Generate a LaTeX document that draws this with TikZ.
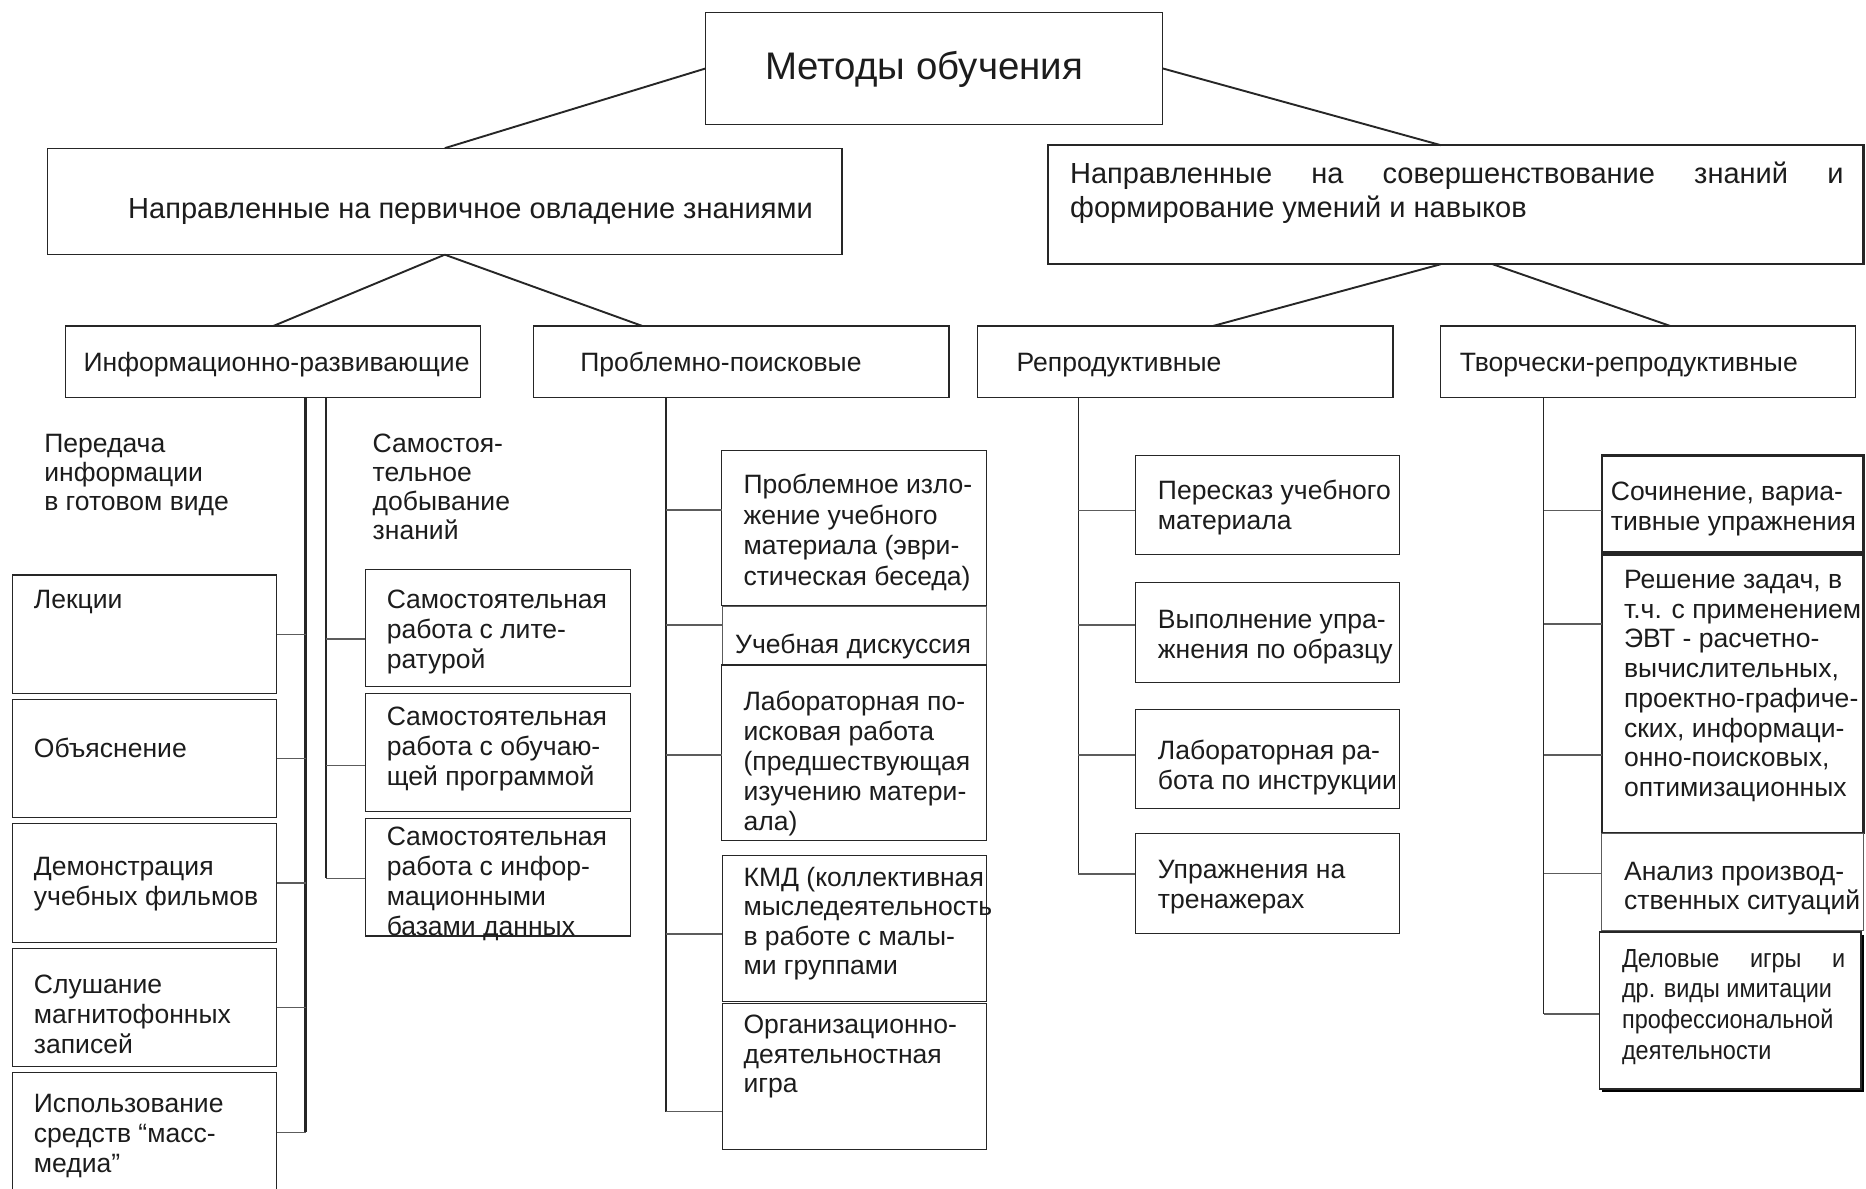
\documentclass[tikz,border=0pt]{standalone}
\usepackage{fontspec}
\setmainfont{Liberation Sans}
\newfontfamily\narrowsans[FakeStretch=0.895]{Liberation Sans}
\usetikzlibrary{positioning,shadows}
\definecolor{schemeInk}{HTML}{1C1C1C}
\definecolor{schemeLine}{HTML}{262626}
\definecolor{schemeGrey}{HTML}{5C5C5C}
\newcommand{\lines}[1]{\begin{tabular}[t]{@{}l@{}}#1\end{tabular}}

\begin{document}
\begin{tikzpicture}[x=1pt,y=-1pt,line join=miter]
\useasboundingbox (0,0) rectangle (1568,999);
\clip (0,0) rectangle (1568,999);
\tikzset{box/.style={draw=schemeLine,line width=1.1pt,inner sep=0pt,outer sep=0pt,anchor=north west},boldbox/.style={box,line width=2.2pt},softbox/.style={box,draw=schemeGrey,line width=0.9pt},shadebox/.style={box,line width=1.5pt,fill=white,drop shadow={shadow xshift=2pt,shadow yshift=-2.5pt,fill=black,opacity=1}},branch/.style={draw=schemeLine,line width=1.6pt},link/.style={draw=schemeGrey,line width=1.1pt},stem/.style={draw=schemeLine,line width=1.3pt},txt/.style={anchor=base west,inner sep=0pt,text=schemeInk,font=\fontsize{22.3}{25.2}\selectfont}}
\node[box,minimum width=384,minimum height=94] (meth) at (593,10.5) {};
\node[box,minimum width=667.5,minimum height=89.5] (prim) at (40,124.5) {};
\node[box,line width=2pt,minimum width=685.5,minimum height=100] (perf) at (880.5,122) {};
\node[box,minimum width=349,minimum height=60] (info) at (55,274) {};
\node[box,minimum width=349,minimum height=60] (prob) at (448.5,274) {};
\node[box,minimum width=349,minimum height=60] (repr) at (821.5,274) {};
\node[box,minimum width=348.5,minimum height=60] (crea) at (1210.5,274) {};
\draw[branch] (meth.west) -- (prim.north); \draw[branch] (meth.east) -- ([xshift=-12.5pt]perf.north);
\draw[branch] (prim.south) -- (info.north); \draw[branch] (prim.south) -- ([xshift=91.5pt]prob.north west);
\draw[branch] ([xshift=-12.5pt]perf.south) -- ([xshift=23pt]repr.north); \draw[branch] ([xshift=31pt]perf.south) -- ([xshift=19pt]crea.north);
\node[txt,font=\fontsize{32.3}{36}\selectfont,anchor=base] (methT) at (776.5,67) {Методы обучения};
\node[txt,font=\fontsize{24.4}{28}\selectfont] (primT) at (107.5,183.4) {Направленные на первичное овладение знаниями};
\node[txt,font=\fontsize{24.4}{28}\selectfont] (perfT) at (899,154.6) {\lines{\hbox to 650pt{Направленные\hfill на\hfill совершенствование\hfill знаний\hfill и}\\формирование умений и навыков}};
\node[txt] (infoT) at (70,312) {Информационно-развивающие};
\node[txt] (probT) at (487.5,312) {Проблемно-поисковые};
\node[txt] (reprT) at (854,312) {Репродуктивные};
\node[txt] (creaT) at (1226.5,312) {Творчески-репродуктивные};
\coordinate (infoA) at (257,334); \coordinate (infoB) at (274,334); \coordinate (probA) at (559.7,334); \coordinate (reprA) at (906.2,334); \coordinate (creaA) at (1297.1,334);
\draw[stem,line width=2.6pt] (infoA) -- (257,951.5); \draw[stem] (infoB) -- (274,738.1);
\draw[stem] (probA) -- (559.7,934.2); \draw[stem] (reprA) -- (906.2,734.5); \draw[stem] (creaA) -- (1297.1,852.1);
\node[txt,font=\fontsize{22.3}{24.5}\selectfont] (passT) at (37,380) {\lines{Передача\\информации\\в готовом виде}};
\node[txt,font=\fontsize{22.3}{24.5}\selectfont] (selfT) at (313,380) {\lines{Самостоя-\\тельное\\добывание\\знаний}};
\node[box,minimum width=221.8,minimum height=99.4] (lect) at (10.6,483.2) {};
\node[box,minimum width=221.8,minimum height=99.1] (expl) at (10.6,587.7) {};
\node[box,minimum width=221.8,minimum height=100] (demo) at (10.6,691.9) {};
\node[box,minimum width=221.8,minimum height=99.5] (tape) at (10.6,796.9) {};
\node[box,minimum width=221.8,minimum height=100.2] (media) at (10.6,901.4) {};
\foreach \n in {lect,expl,demo,tape,media} {\draw[link] (\n.east) -- (\n.east -| infoA);}
\node[box,minimum width=222.6,minimum height=98.6] (self1) at (307,478.4) {};
\node[box,minimum width=222.6,minimum height=99.5] (self2) at (307,582.6) {};
\node[box,minimum width=222.6,minimum height=98.9] (self3) at (307,687.7) {};
\foreach \n/\y in {self1/537,self2/643.4,self3/738.1} {\path (274,\y) coordinate (k); \draw[link] (k) -- (k -| \n.west);}
\node[txt] (lectT) at (28.3,511.7) {Лекции};
\node[txt] (explT) at (28.3,636.4) {Объяснение};
\node[txt] (demoT) at (28.3,735.8) {\lines{Демонстрация\\учебных фильмов}};
\node[txt] (tapeT) at (28.3,835.2) {\lines{Слушание\\магнитофонных\\записей}};
\node[txt] (mediaT) at (28.3,934.7) {\lines{Использование\\средств “масс-\\медиа”}};
\node[txt] (self1T) at (324.8,511.7) {\lines{Самостоятельная\\работа с лите-\\ратурой}};
\node[txt] (self2T) at (324.8,609.7) {\lines{Самостоятельная\\работа с обучаю-\\щей программой}};
\node[txt] (self3T) at (324.8,710.6) {\lines{Самостоятельная\\работа с инфор-\\мационными\\базами данных}};
\node[box,minimum width=222.7,minimum height=130.3] (pb1) at (606.5,378.7) {};
\node[softbox,minimum width=222,minimum height=49] (pb2) at (607.2,509.8) {};
\node[box,minimum width=222.7,minimum height=147.7] (pb3) at (606.5,558.8) {};
\node[box,minimum width=222.2,minimum height=122.6] (pb4) at (607,719.1) {};
\node[box,minimum width=222.2,minimum height=122.7] (pb5) at (607,843.1) {};
\foreach \n/\y in {pb1/428.6,pb2/525.2,pb3/634.5,pb4/784.9,pb5/934.2} {\path (559.7,\y) coordinate (k); \draw[link] (k) -- (k -| \n.west);}
\node[txt,font=\fontsize{22.3}{25.6}\selectfont] (pb1T) at (624.6,415) {\lines{Проблемное изло-\\жение учебного\\материала (эври-\\стическая беседа)}};
\node[txt] (pb2T) at (617.6,549.5) {Учебная дискуссия};
\node[txt] (pb3T) at (624.6,597) {\lines{Лабораторная по-\\исковая работа\\(предшествующая\\изучению матери-\\ала)}};
\node[txt,font=\fontsize{22.3}{24.8}\selectfont] (pb4T) at (624.6,744.7) {\lines{КМД (коллективная\\мыследеятельность\\в работе с малы-\\ми группами}};
\node[txt,font=\fontsize{22.3}{24.5}\selectfont] (pb5T) at (624.6,868.8) {\lines{Организационно-\\деятельностная\\игра}};
\node[box,minimum width=222,minimum height=83.2] (rp1) at (954,382.6) {};
\node[box,minimum width=222,minimum height=84.1] (rp2) at (954,489.6) {};
\node[box,minimum width=222,minimum height=83.3] (rp3) at (954,596) {};
\node[box,minimum width=222,minimum height=84] (rp4) at (954,700.3) {};
\foreach \n/\y in {rp1/429.1,rp2/525.2,rp3/634.5,rp4/734.5} {\path (906.2,\y) coordinate (k); \draw[link] (k) -- (k -| \n.west);}
\node[txt] (rp1T) at (972.8,419.5) {\lines{Пересказ учебного\\материала}};
\node[txt] (rp2T) at (972.8,528.5) {\lines{Выполнение упра-\\жнения по образцу}};
\node[txt] (rp3T) at (972.8,637.8) {\lines{Лабораторная ра-\\бота по инструкции}};
\node[txt] (rp4T) at (972.8,738.5) {\lines{Упражнения на\\тренажерах}};
\node[boldbox,minimum width=220,minimum height=81.5] (cr1) at (1346,382.6) {};
\node[boldbox,minimum width=220,minimum height=233.5] (cr2) at (1346,466.5) {};
\node[softbox,minimum width=220,minimum height=81.5] (cr3) at (1346,700) {};
\node[shadebox,minimum width=220,minimum height=132] (cr4) at (1344,783) {};
\foreach \n/\y in {cr1/429.1,cr2/524.4,cr2/634.5,cr3/733.9,cr4/852.1} {\path (1297.1,\y) coordinate (k); \draw[link] (k) -- (k -| \n.west);}
\node[txt] (cr1T) at (1353.4,420.7) {\lines{Сочинение, вариа-\\тивные упражнения}};
\node[txt,font=\fontsize{22.3}{25}\selectfont] (cr2T) at (1364.5,494.5) {\lines{Решение задач, в\\т.ч. с применением\\ЭВТ - расчетно-\\вычислительных,\\проектно-графиче-\\ских, информаци-\\онно-поисковых,\\оптимизационных}};
\node[txt,font=\fontsize{22.3}{24}\selectfont] (cr3T) at (1364.5,740) {\lines{Анализ производ-\\ственных ситуаций}};
\node[txt,font=\narrowsans\fontsize{22}{25.7}\selectfont] (cr4T) at (1362.8,812.8) {\lines{\hbox to 187.6pt{Деловые\hfill игры\hfill и}\\др. виды имитации\\профессиональной\\деятельности}};
\end{tikzpicture}
\end{document}
